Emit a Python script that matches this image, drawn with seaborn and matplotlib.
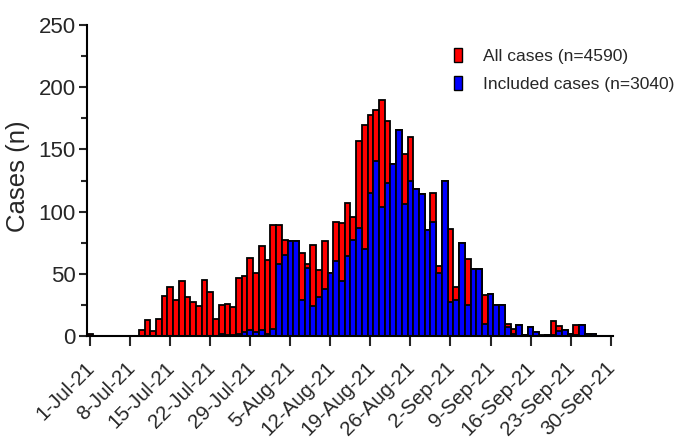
import matplotlib
matplotlib.use("Agg")
import matplotlib.pyplot as plt
from matplotlib.patches import Patch
from matplotlib.ticker import MultipleLocator
from matplotlib.transforms import ScaledTranslation
import numpy as np
import pandas as pd
import seaborn as sns

# Daily case counts, 1 Jul 2021 - 30 Sep 2021
all_jul = [2, 0, 0, 0, 0, 0, 0, 0, 0, 5, 13, 4, 14, 32, 39, 29, 44, 31, 27, 24,
           45, 35, 14, 25, 26, 23, 47, 48, 63, 51, 72]
all_aug = [61, 89, 89, 77, 76, 76, 67, 58, 73, 53, 76, 51, 92, 91, 107, 96, 157,
           170, 178, 182, 190, 173, 138, 166, 146, 160, 118, 114, 85, 115, 56]
all_sep = [125, 86, 39, 75, 62, 54, 54, 33, 34, 25, 25, 10, 6, 9, 1, 7, 3, 1, 1,
           12, 8, 5, 2, 9, 9, 2, 2, 0, 0, 0]

inc_jul = [0, 0, 0, 0, 0, 0, 0, 0, 0, 0, 0, 0, 0, 0, 0, 0, 0, 0, 0, 0,
           0, 0, 0, 2, 1, 1, 2, 3, 5, 3, 5]
inc_aug = [2, 6, 58, 65, 76, 76, 29, 55, 24, 31, 38, 51, 60, 44, 64, 77, 87,
           70, 115, 141, 104, 123, 138, 166, 106, 125, 118, 114, 85, 92, 51]
inc_sep = [125, 27, 29, 75, 25, 54, 54, 10, 34, 25, 25, 7, 2, 9, 1, 7, 3, 0, 1,
           1, 4, 5, 2, 1, 9, 2, 2, 0, 0, 0]

series_labels = ["All cases (n=4590)", "Included cases (n=3040)"]
series_colors = ["#FF0000", "#0000FF"]
y_ticks = [0, 50, 100, 150, 200, 250]

dates = pd.date_range("2021-07-01", "2021-09-30", freq="D")
day_labels = [f"{d.day}-{d.strftime('%b')}-{d.strftime('%y')}" for d in dates]
df = pd.DataFrame({
    "day": day_labels,
    "all": all_jul + all_aug + all_sep,
    "included": inc_jul + inc_aug + inc_sep,
})

sns.set_style("ticks")
plt.rcParams["font.family"] = ["Liberation Sans", "DejaVu Sans"]

fig = plt.figure(figsize=(6.78, 4.42), dpi=100)
ax = fig.add_axes([0.128, 0.2398, 0.776, 0.7036])

bar_kw = dict(width=1.0, edgecolor="black", linewidth=1.3, saturation=1, ax=ax)
sns.barplot(data=df, x="day", y="all", order=day_labels, color=series_colors[0], **bar_kw)
sns.barplot(data=df, x="day", y="included", order=day_labels, color=series_colors[1], **bar_kw)

ax.set_xlim(-0.6, len(day_labels) - 0.6)
ax.set_ylim(0, 250)
ax.set_yticks(y_ticks)
ax.yaxis.set_minor_locator(MultipleLocator(25))

tick_pos = list(range(0, len(day_labels), 7))
ax.set_xticks(tick_pos)
ax.set_xticklabels([day_labels[i] for i in tick_pos], rotation=45, ha="right",
                   va="top", rotation_mode="anchor", fontsize=14.8)

ax.tick_params(axis="y", labelsize=16, length=6, width=1.5, pad=2)
ax.tick_params(axis="y", which="minor", length=4, width=1.5)
ax.tick_params(axis="x", length=7, width=1.5, pad=9)

# nudge the slanted date labels slightly left of their ticks
nudge = ScaledTranslation(-5 / 100, 0, fig.dpi_scale_trans)
for lab in ax.get_xticklabels():
    lab.set_transform(lab.get_transform() + nudge)

ax.set_xlabel("")
ax.set_ylabel("Cases (n)", fontsize=18.5)
ax.yaxis.set_label_coords(-0.108, 0.515)

for side in ("top", "right"):
    ax.spines[side].set_visible(False)
for side in ("left", "bottom"):
    ax.spines[side].set_linewidth(1.5)
    ax.spines[side].set_color("black")

handles = [Patch(facecolor=c, edgecolor="black", linewidth=1.0) for c in series_colors]
ax.legend(handles, series_labels, loc="upper left", bbox_to_anchor=(0.684, 0.95),
          frameon=False, fontsize=12.5, handlelength=0.5, handleheight=0.9,
          handletextpad=1.2, labelspacing=0.7, borderaxespad=0)

fig.savefig("out.png", dpi=100)
